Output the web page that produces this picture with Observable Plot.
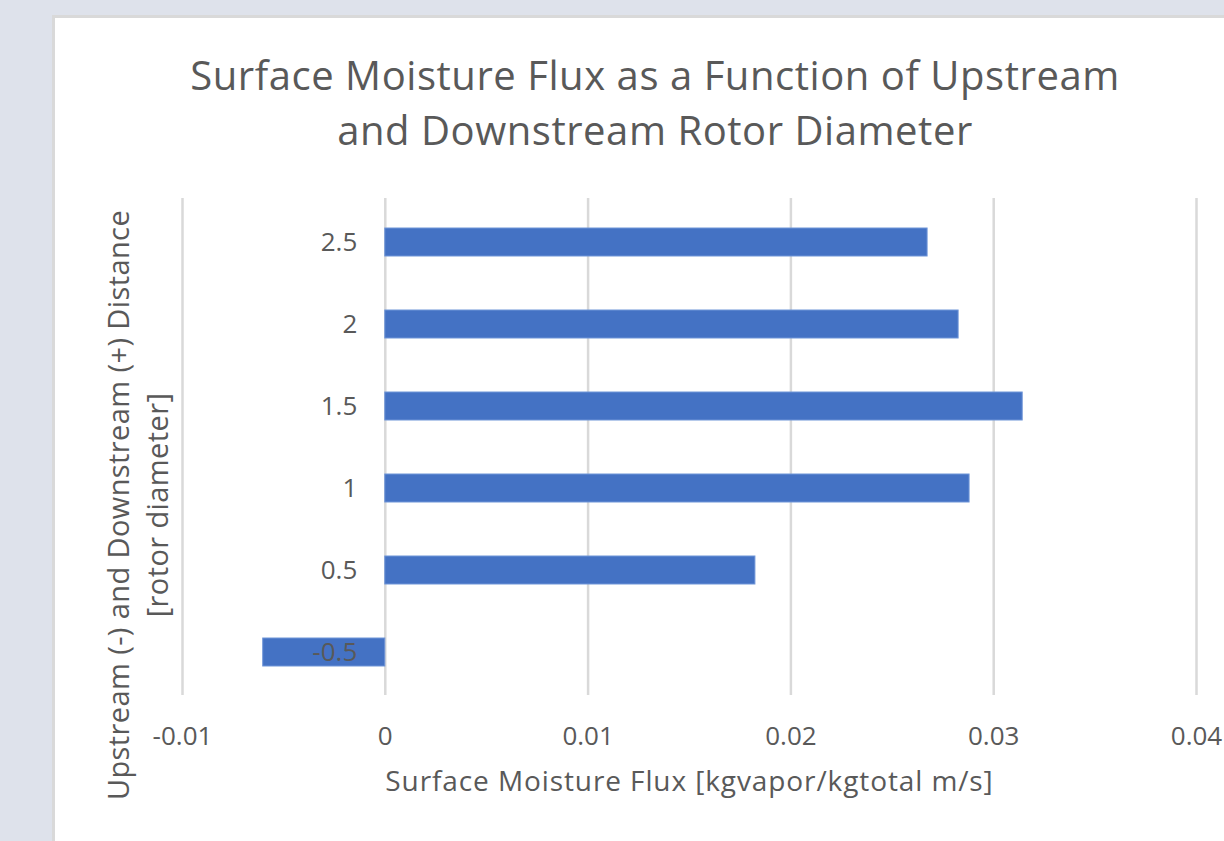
<!DOCTYPE html>
<html>
<head>
<meta charset="utf-8">
<script src="https://cdn.jsdelivr.net/npm/d3@7"></script>
<script src="https://cdn.jsdelivr.net/npm/@observablehq/plot@0.6"></script>
<style>
  html, body { margin: 0; padding: 0; }
  body { width: 1224px; height: 841px; overflow: hidden; background: #dee2eb; position: relative; }
  #panel { position: absolute; left: 52px; top: 15px; width: 1200px; height: 900px; background: #fff; border: 3px solid #d9d9d9; box-sizing: border-box; }
  #title { position: absolute; left: 0; width: 1310px; top: 47px; text-align: center; font-family: "Open Sans", sans-serif; font-size: 40px; letter-spacing: 0.55px; line-height: 55px; color: #595959; }
  #ytitle { position: absolute; left: 137px; top: 505px; width: 800px; transform: translate(-50%, -50%) rotate(-90deg); text-align: center; font-family: "Open Sans", sans-serif; font-size: 29px; letter-spacing: 0.4px; line-height: 39px; color: #595959; }
  #chart { position: absolute; left: 0; top: 0; }
  .xlab text { letter-spacing: 0.9px; }
</style>
</head>
<body>
<div id="panel"></div>
<div id="title">Surface Moisture Flux as a Function of Upstream<br>and Downstream Rotor Diameter</div>
<div id="chart"></div>
<div id="ytitle">Upstream (-) and Downstream (+) Distance<br>[rotor diameter]</div>
<script>
const distances = ["2.5", "2", "1.5", "1", "0.5", "-0.5"];
const fluxValues = [0.02674, 0.02827, 0.03143, 0.02881, 0.01825, -0.00602];
const xTicks = [-0.01, 0, 0.01, 0.02, 0.03, 0.04];
const xTickLabels = ["-0.01", "0", "0.01", "0.02", "0.03", "0.04"];
const xLabel = "Surface Moisture Flux [kgvapor/kgtotal m/s]";

const data = distances.map((d, i) => ({dist: d, flux: fluxValues[i]}));

const font = "'Open Sans', sans-serif";
const chart = Plot.plot({
  width: 1224,
  height: 841,
  marginLeft: 182,
  marginRight: 28,
  marginTop: 198,
  marginBottom: 146,
  style: {background: "transparent", color: "#595959", fontFamily: font, fontSize: "26px"},
  x: {domain: [-0.01, 0.04], ticks: xTicks, label: null},
  y: {type: "band", domain: distances, paddingInner: 0.66, paddingOuter: 0.33, axis: null},
  marks: [
    Plot.gridX(xTicks, {stroke: "#d9d9d9", strokeWidth: 2.5, strokeOpacity: 1}),
    Plot.barX(data, {x: "flux", y: "dist", fill: "#4472c4", stroke: "#6f95d8", strokeWidth: 1}),
    Plot.text(data, {x: 0, y: "dist", text: "dist", dx: -28, textAnchor: "end", fill: "#595959", fontSize: 26}),
    Plot.axisX(xTicks, {tickSize: 0, tickPadding: 31, tickFormat: (d) => xTickLabels[xTicks.indexOf(d)], fontSize: 26, label: null}),
    Plot.text([xLabel], {frameAnchor: "bottom", dy: 95, text: d => d, fill: "#595959", fontSize: 28, className: "xlab"})
  ]
});
document.getElementById("chart").appendChild(chart);
</script>
</body>
</html>
